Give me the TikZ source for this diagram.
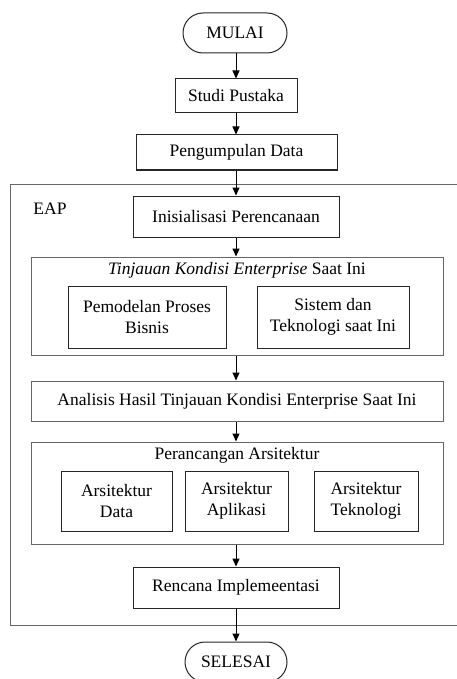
\documentclass[tikz,border=0pt]{standalone}
\usepackage{fontspec}
\setmainfont{Liberation Serif}
\usetikzlibrary{arrows.meta,shapes.misc}
\tikzset{
  txt/.style={font=\fontsize{17.5}{21}\selectfont, align=center},
  box/.style={txt, draw=black!85, line width=1pt, inner sep=0pt},
  group/.style={draw=black!60, line width=1pt, inner sep=0pt},
  terminal/.style={txt, draw=black!85, line width=1pt, rounded rectangle, inner sep=0pt},
  arr/.style={draw=black, line width=1pt, -{Triangle[width=7pt,length=8pt]}}
}
\begin{document}
\begin{tikzpicture}[x=1pt, y=-1pt]
  \path[use as bounding box, clip] (0,0) rectangle (457,679);

  % EAP frame (runs off the right edge)
  \draw[draw=black!60, line width=1pt] (475,184) -- (10.7,184) -- (10.7,625) -- (475,625);
  \node[txt, anchor=base] (eap) at (50,214) {EAP};

  % start / end
  \node[terminal, minimum width=104, minimum height=40] (mulai) at (235,33) {MULAI};
  \node[terminal, minimum width=102, minimum height=40] (selesai) at (236,662) {SELESAI};

  % steps
  \node[box, minimum width=122, minimum height=34] (studi) at (236,96) {Studi Pustaka};
  \node[box, minimum width=201, minimum height=35] (kumpul) at (236.5,152.5) {Pengumpulan Data};
  \node[box, minimum width=206, minimum height=41] (inisial) at (236,216.5) {Inisialisasi Perencanaan};

  % current enterprise review
  \node[group, minimum width=412, minimum height=98] (tinjau) at (237,306) {};
  \node[txt, anchor=base] (tinjauT) at (237,274) {\textit{Tinjauan Kondisi Enterprise} Saat Ini};
  \node[box, minimum width=158, minimum height=62] (bisnis) at (147,317) {Pemodelan Proses\\Bisnis};
  \node[box, minimum width=152, minimum height=62] (sistem) at (333,317) {Sistem dan\\Teknologi saat Ini};

  \node[box, draw=black!60, minimum width=412, minimum height=40] (analisis) at (237,401) {Analisis Hasil Tinjauan Kondisi Enterprise Saat Ini};

  % architecture design
  \node[group, minimum width=412, minimum height=102] (rancang) at (237,493) {};
  \node[txt, anchor=base] (rancangT) at (237,459) {Perancangan Arsitektur};
  \node[box, minimum width=111, minimum height=60] (adata) at (116.5,501) {Arsitektur\\Data};
  \node[box, minimum width=103, minimum height=60] (aapl) at (236.5,501) {Arsitektur\\Aplikasi};
  \node[box, minimum width=104, minimum height=60] (atek) at (366,501) {Arsitektur\\Teknologi};

  \node[box, minimum width=206, minimum height=41] (rencana) at (236,587.5) {Rencana Implemeentasi};

  % flow
  \draw[arr] (236,0 |- mulai.south) -- (236,0 |- studi.north);
  \draw[arr] (236,0 |- studi.south) -- (236,0 |- kumpul.north);
  \draw[arr] (236,0 |- kumpul.south) -- (236,0 |- inisial.north);
  \draw[arr] (236,0 |- inisial.south) -- (236,0 |- tinjau.north);
  \draw[arr] (236,0 |- tinjau.south) -- (236,0 |- analisis.north);
  \draw[arr] (236,0 |- analisis.south) -- (236,0 |- rancang.north);
  \draw[arr] (236,0 |- rancang.south) -- (236,0 |- rencana.north);
  \draw[arr] (236,0 |- rencana.south) -- (236,0 |- selesai.north);
\end{tikzpicture}
\end{document}
